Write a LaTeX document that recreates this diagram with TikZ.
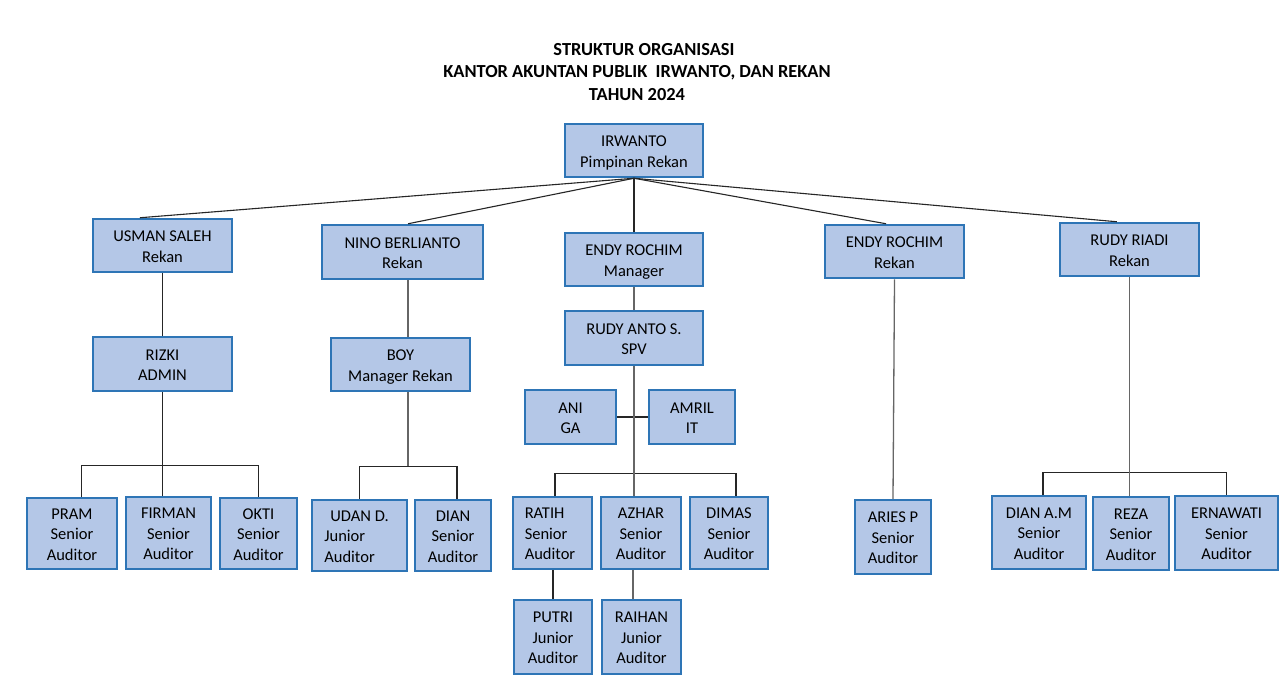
\documentclass[tikz,border=0pt]{standalone}
\usepackage{fontspec}
\usepackage{array}
\setmainfont{Carlito}
\usetikzlibrary{calc}
\definecolor{boxblue}{HTML}{2E75B6}
\definecolor{boxfill}{HTML}{B4C7E7}
\newcommand\boxfont{\fontsize{16.5}{20}\selectfont}
\newcommand\rowsetup{\setbox\strutbox\hbox{\vrule height16.5pt depth4pt width0pt}\renewcommand\arraystretch{1}\setlength\extrarowheight{0pt}}
\newcommand\linesc[1]{{\rowsetup\begin{tabular}{@{}c@{}}#1\end{tabular}}}
\newcommand\linesl[2]{{\rowsetup\begin{tabular}{@{}l@{\hspace{#1}}}#2\end{tabular}}}
\begin{document}
\begin{tikzpicture}[x=1pt,y=-1pt,
  box/.style={draw=boxblue, fill=boxfill, line width=2pt, inner sep=0pt, font=\boxfont},
  conn/.style={draw=black!85, line width=1.1pt},
  trunk/.style={draw=black!60, line width=1.3pt},
  titletext/.style={font=\bfseries\fontsize{18.4}{22.5}\selectfont, align=center}]
\useasboundingbox (0,0) rectangle (1287,683);
\fill[white] (0,0) rectangle (1287,683);

\node[titletext] (title) at (637,72) {\hspace*{14pt}STRUKTUR ORGANISASI\\KANTOR AKUNTAN PUBLIK\ \ IRWANTO, DAN REKAN\\TAHUN 2024};

% level 0
\node[box, minimum width=138.5, minimum height=53.5] (irwanto) at (634,150.5) {\linesc{IRWANTO\\Pimpinan Rekan}};

% level 1
\node[box, minimum width=139.5, minimum height=53.5] (usman) at (162.5,245.5) {\linesc{USMAN SALEH\\Rekan}};
\node[box, minimum width=161.5, minimum height=54.5] (nino) at (402.5,252) {\linesc{NINO BERLIANTO\\Rekan}};
\node[box, minimum width=138.5, minimum height=53.5] (endym) at (634,259.5) {\linesc{ENDY ROCHIM\\Manager}};
\node[box, minimum width=139.5, minimum height=53.5] (endyr) at (894.5,251.5) {\linesc{ENDY ROCHIM\\Rekan}};
\node[box, minimum width=139.5, minimum height=53.5] (rudyr) at (1129.5,249.5) {\linesc{RUDY RIADI\\Rekan}};

% level 2
\node[box, minimum width=139.5, minimum height=54.5] (rizki) at (162.5,364) {\linesc{RIZKI\\ADMIN}};
\node[box, minimum width=139.5, minimum height=53.5] (boy) at (400.5,364.5) {\linesc{BOY\\Manager Rekan}};
\node[box, minimum width=138.5, minimum height=54.5] (rudyanto) at (634,338) {\linesc{RUDY ANTO S.\\SPV}};
\node[box, minimum width=91.5, minimum height=54.5] (ani) at (570.5,417) {\linesc{ANI\\GA}};
\node[box, minimum width=86.5, minimum height=54.5] (amril) at (692,417) {\linesc{AMRIL\\IT}};

% auditors
\node[box, minimum width=90.5, minimum height=71.5] (pram) at (72,533.5) {\linesc{PRAM\\Senior\\Auditor}};
\node[box, minimum width=85.5, minimum height=72.5] (firman) at (168.5,533) {\linesc{FIRMAN\\Senior\\Auditor}};
\node[box, minimum width=77.5, minimum height=71.5] (okti) at (258.5,533.5) {\linesc{OKTI\\Senior\\Auditor}};

\node[box, minimum width=95.5, minimum height=71.5] (udan) at (359.5,535.5) {\linesl{6pt}{\hspace*{6pt}UDAN D.\\Junior\\Auditor}};
\node[box, minimum width=76.5, minimum height=71.5] (dian) at (453,535.5) {\linesc{DIAN\\Senior\\Auditor}};

\node[box, minimum width=79.5, minimum height=72.5] (ratih) at (552.5,533) {\linesl{5pt}{RATIH\\Senior\\Auditor}};
\node[box, minimum width=80.5, minimum height=72.5] (azhar) at (641,533) {\linesc{AZHAR\\Senior\\Auditor}};
\node[box, minimum width=78.5, minimum height=72.5] (dimas) at (729,533) {\linesc{DIMAS\\Senior\\Auditor}};
\node[box, minimum width=78.5, minimum height=74.5] (putri) at (553,637) {\linesc{PUTRI\\Junior\\Auditor}};
\node[box, minimum width=79.5, minimum height=74.5] (raihan) at (641.5,637) {\linesc{RAIHAN\\Junior\\Auditor}};

\node[box, minimum width=76.5, minimum height=74.5] (aries) at (893,537) {\linesc{ARIES P\\Senior\\Auditor}};

\node[box, minimum width=94.5, minimum height=73.5] (dianam) at (1039,532.5) {\linesc{DIAN A.M\\Senior\\Auditor}};
\node[box, minimum width=76.5, minimum height=73.5] (reza) at (1131,533.5) {\linesc{REZA\\Senior\\Auditor}};
\node[box, minimum width=103.5, minimum height=74.5] (ernawati) at (1226.5,533) {\linesc{ERNAWATI\\Senior\\Auditor}};

% top fan
\draw[conn] (irwanto.south) -- ($(usman.north west)!0.34!(usman.north east)$);
\draw[conn] (irwanto.south) -- ($(nino.north west)!0.534!(nino.north east)$);
\draw[conn] (irwanto.south) -- (endym.north);
\draw[conn] (irwanto.south) -- ($(endyr.north west)!0.44!(endyr.north east)$);
\draw[conn] (irwanto.south) -- ($(rudyr.north west)!0.41!(rudyr.north east)$);

% left group
\draw[conn] (usman.south) -- (rizki.north);
\draw[conn] ($(pram.north west)!0.6!(pram.north east)$) |- ($(rizki.south)+(0,73)$) -| (okti.north);
\draw[conn] (rizki.south) -- (rizki.south |- firman.north);

% nino group
\draw[trunk] ($(nino.south)+(5.5,0)$) -- ($(boy.north)+(7.5,0)$);
\draw[conn] (udan.north) |- ($(boy.south)+(7.5,74)$) -| ($(dian.north)+(4,0)$);
\draw[trunk] ($(boy.south)+(7.5,0)$) -- ($(boy.south)+(7.5,74)$);

% manager group
\draw[trunk] (endym.south) -- (rudyanto.north);
\draw[conn] (ani.east) -- (amril.west);
\draw[conn] ($(ratih.north)+(2.5,0)$) |- ($(rudyanto.south)+(0,107)$) -| ($(dimas.north)+(7,0)$);
\draw[trunk] (rudyanto.south) -- (rudyanto.south |- azhar.north);
\draw[conn] (putri.north) -- (putri.north |- ratih.south);
\draw[trunk] ($(raihan.north)+(-8.5,0)$) -- ($(azhar.south)+(-8,0)$);

% right groups
\draw[trunk] (endyr.south) -- (aries.north);
\draw[conn] ($(dianam.north)+(4,0)$) |- ($(rudyr.south)+(0,195)$) -| (ernawati.north);
\draw[trunk] (rudyr.south) -- (rudyr.south |- reza.north);
\end{tikzpicture}
\end{document}
